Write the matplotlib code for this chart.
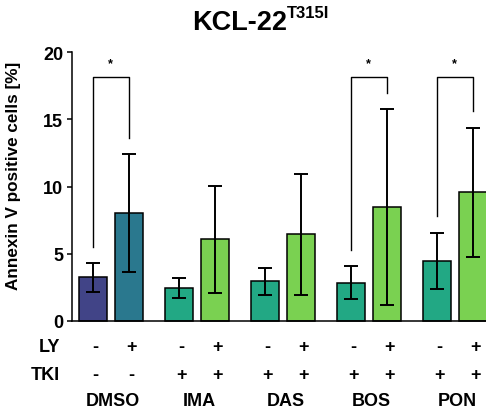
import matplotlib
matplotlib.use("Agg")
import matplotlib.pyplot as plt
import numpy as np

plt.rcParams['font.family'] = ['Liberation Sans', 'DejaVu Sans']
plt.rcParams['font.weight'] = 'bold'

groups = ["DMSO", "IMA", "DAS", "BOS", "PON"]
ly_signs = ["-", "+"]
tki_signs = [["-", "-"], ["+", "+"], ["+", "+"], ["+", "+"], ["+", "+"]]
mean_minus = [3.23, 2.44, 2.93, 2.84, 4.45]
mean_plus = [8.04, 6.07, 6.44, 8.46, 9.57]
err_minus = [1.07, 0.77, 1.02, 1.2, 2.1]
err_plus = [4.42, 3.98, 4.5, 7.3, 4.8]
colors_minus = ["#414487", "#22a884", "#22a884", "#22a884", "#22a884"]
colors_plus = ["#2a788e", "#7ad151", "#7ad151", "#7ad151", "#7ad151"]
# significance brackets: group index, left leg bottom, right leg bottom
sig_groups = [0, 3, 4]
sig_left = [5.5, 5.25, 7.8]
sig_right = [13.6, 17.0, 15.6]
sig_top = 18.15
yticks = [0, 5, 10, 15, 20]

FS = 13

fig = plt.figure(figsize=(4.86, 4.14), dpi=100)
ax = fig.add_axes([0.1475, 0.223, 0.8525, 0.648])

x = np.arange(len(groups))
off = 0.209
w = 0.326
ax.bar(x - off, mean_minus, w, color=colors_minus, edgecolor="black", linewidth=1.1, zorder=2, clip_on=False)
ax.bar(x + off, mean_plus, w, color=colors_plus, edgecolor="black", linewidth=1.1, zorder=2, clip_on=False)
ax.errorbar(x - off, mean_minus, yerr=err_minus, fmt="none", ecolor="black", elinewidth=1.4,
            capsize=5, capthick=1.4, zorder=3)
ax.errorbar(x + off, mean_plus, yerr=err_plus, fmt="none", ecolor="black", elinewidth=1.4,
            capsize=5, capthick=1.4, zorder=3)

for g, l, r in zip(sig_groups, sig_left, sig_right):
    ax.plot([g - off, g - off, g + off, g + off], [l, sig_top, sig_top, r], color="black", lw=1.0,
            zorder=4, clip_on=False)
    ax.text(g, sig_top + 0.6, "*", ha="center", va="bottom", fontsize=9, fontweight="bold")

ax.set_xlim(-0.454, 4.363)
ax.set_ylim(0, 20)
ax.set_yticks(yticks)
ax.set_yticklabels([str(t) for t in yticks], fontsize=FS, fontweight="bold")
ax.tick_params(axis="y", direction="out", length=3.6, width=1.1, pad=2.5)
ax.tick_params(axis="x", bottom=False, labelbottom=False)
ax.spines["top"].set_visible(False)
ax.spines["right"].set_visible(False)
ax.spines["left"].set_linewidth(1.1)
ax.spines["bottom"].set_linewidth(1.1)

ax.set_ylabel("Annexin V positive cells [%]", fontsize=12.3, fontweight="bold")
ax.yaxis.set_label_coords(-0.122, 0.545)

tr = ax.get_xaxis_transform()
y_ly, y_tki, y_name = -0.0945, -0.199, -0.299
sx = 0.03
ax.text(-0.59, y_ly, "LY", transform=tr, ha="right", va="center", fontsize=FS, fontweight="bold")
ax.text(-0.59, y_tki, "TKI", transform=tr, ha="right", va="center", fontsize=FS, fontweight="bold")
for i, g in enumerate(groups):
    for j, s in enumerate([-1, 1]):
        ax.text(i + s * off + sx, y_ly, ly_signs[j], transform=tr, ha="center", va="center",
                fontsize=FS, fontweight="bold")
        ax.text(i + s * off + sx, y_tki, tki_signs[i][j], transform=tr, ha="center", va="center",
                fontsize=FS, fontweight="bold")
    ax.text(i + sx, y_name, g, transform=tr, ha="center", va="center", fontsize=FS, fontweight="bold")

fig.text(287 / 486, 1 - 23.5 / 414, "KCL-22", ha="right", va="center", fontsize=19.5, fontweight="bold")
fig.text(287 / 486, 1 - 13 / 414, "T315I", ha="left", va="center", fontsize=12, fontweight="bold")

fig.savefig("out.png", dpi=100)
